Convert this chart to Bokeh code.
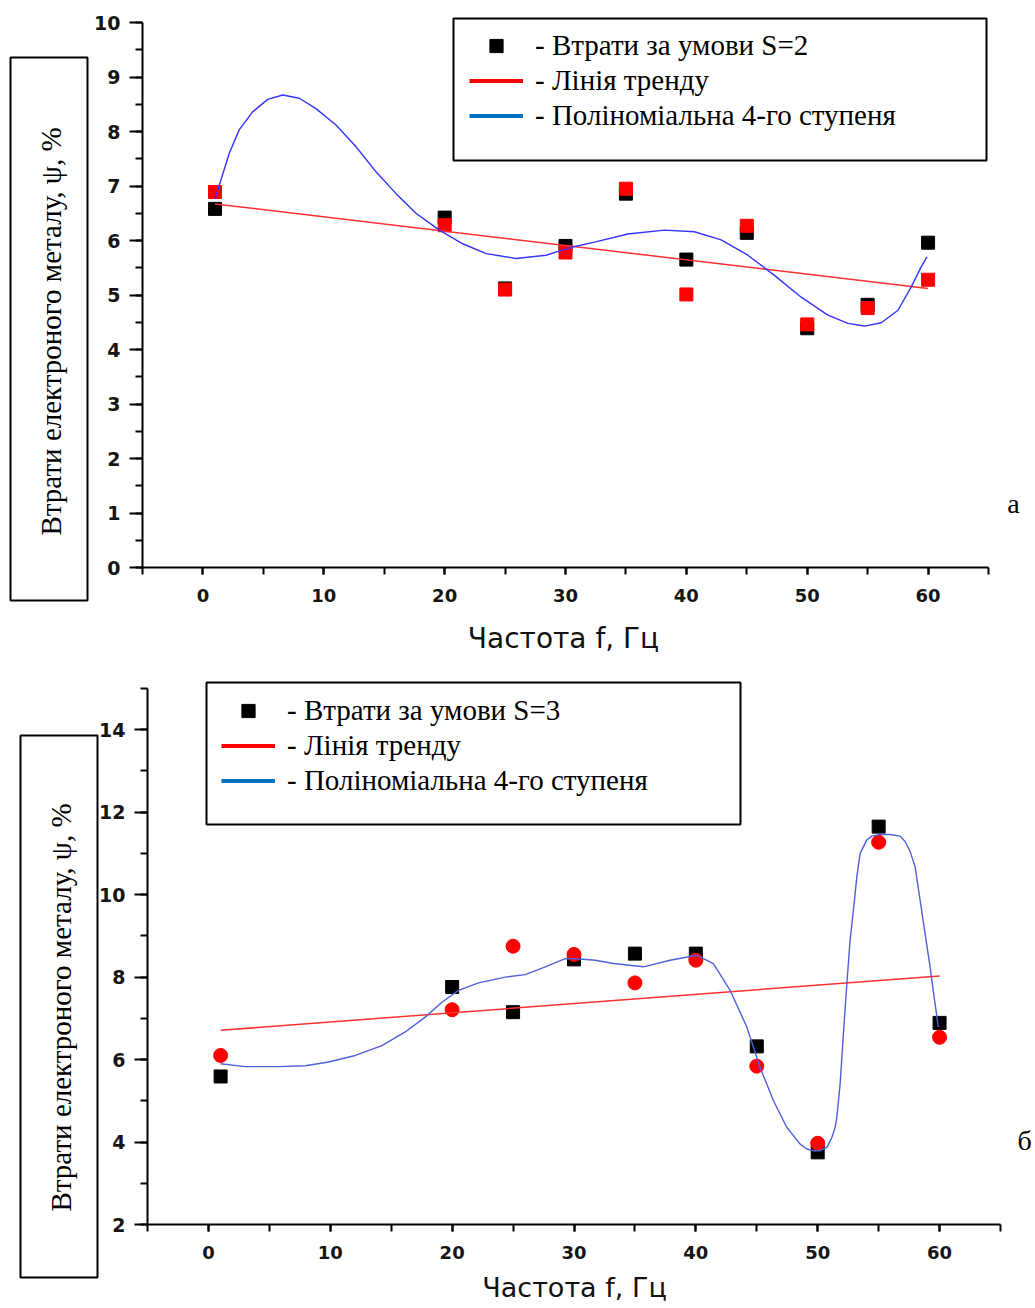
from math import pi
from bokeh.plotting import figure
from bokeh.models import (FixedTicker, Legend, LegendItem, BoxAnnotation, Range1d, Label)
from bokeh.layouts import column
from bokeh.embed import file_html
from bokeh.resources import INLINE

# ---------------- data ----------------
freq = [1, 20, 25, 30, 35, 40, 45, 50, 55, 60]

# chart a (S=2)
s2_black = [6.58, 6.42, 5.12, 5.90, 6.86, 5.65, 6.14, 4.39, 4.82, 5.96]
s2_red = [6.89, 6.28, 5.10, 5.78, 6.95, 5.01, 6.27, 4.46, 4.76, 5.28]
s2_trend_x = [1, 60]
s2_trend_y = [6.67, 5.12]
s2_poly_x = [0.99, 1.49, 2.18, 3.0, 4.11, 5.36, 6.6, 7.97, 9.35, 11.01, 12.67, 14.32,
             15.98, 17.63, 19.56, 21.5, 23.43, 25.91, 28.39, 29.64, 30.6, 32.4, 35.16,
             38.19, 40.67, 42.88, 45.09, 47.29, 49.5, 51.71, 53.37, 54.74, 56.13, 57.51,
             58.61, 59.44, 59.91]
s2_poly_y = [6.76, 7.11, 7.60, 8.03, 8.36, 8.59, 8.67, 8.61, 8.42, 8.12, 7.72, 7.26,
             6.86, 6.50, 6.19, 5.94, 5.76, 5.67, 5.73, 5.82, 5.88, 5.97, 6.12,
             6.19, 6.16, 6.01, 5.73, 5.36, 4.96, 4.63, 4.48, 4.43, 4.49, 4.72,
             5.15, 5.52, 5.70]

# chart б (S=3)
s3_black = [5.59, 7.76, 7.15, 8.43, 8.57, 8.57, 6.32, 3.75, 11.65, 6.89]
s3_red = [6.10, 7.21, 8.75, 8.55, 7.86, 8.41, 5.84, 3.97, 11.27, 6.54]
s3_trend_x = [1, 60]
s3_trend_y = [6.71, 8.03]
s3_poly_x = [0.98, 3.03, 5.76, 7.95, 9.86, 12.05, 14.24, 16.15, 17.79, 19.16, 20.52,
             22.17, 24.36, 26.0, 27.64, 29.28, 30.51, 31.74, 33.24, 35.7, 37.89, 40.08,
             41.44, 42.81, 44.18, 45.27, 46.37, 47.46, 48.56, 49.1, 49.65, 50.2, 50.75,
             51.16, 51.43, 51.57, 51.84, 52.11, 52.39, 52.66, 52.93, 53.21, 53.48, 54.03,
             54.44, 55.12, 55.94, 56.76, 57.17, 57.58, 57.99, 58.4, 58.81, 59.22, 59.55,
             59.9]
s3_poly_y = [5.90, 5.83, 5.83, 5.85, 5.94, 6.10, 6.34, 6.67, 7.03, 7.39, 7.68,
             7.86, 8.00, 8.06, 8.25, 8.45, 8.44, 8.41, 8.33, 8.25, 8.41, 8.53,
             8.33, 7.68, 6.79, 5.81, 5.00, 4.36, 3.95, 3.83, 3.79, 3.79, 3.87,
             4.11, 4.36, 4.60, 5.41, 6.63, 7.84, 8.90, 9.62, 10.43, 11.0, 11.33,
             11.42, 11.46, 11.46, 11.42, 11.29, 11.05, 10.68, 9.87, 9.06, 8.25, 7.52,
             6.79]

x_ticks = [0, 10, 20, 30, 40, 50, 60]
x_minor = [-5, 0, 5, 10, 15, 20, 25, 30, 35, 40, 45, 50, 55, 60, 65]
s2_y_ticks = [0, 1, 2, 3, 4, 5, 6, 7, 8, 9, 10]
s2_y_minor = [v / 2 for v in range(0, 21)]
s3_y_ticks = [2, 4, 6, 8, 10, 12, 14]
s3_y_minor = [2, 3, 4, 5, 6, 7, 8, 9, 10, 11, 12, 13, 14, 15]

y_title = "Втрати електроного металу, ψ, %"
x_title = "Частота f, Гц"
legend_labels_a = ["- Втрати за умови S=2", "- Лінія тренду", "- Поліноміальна 4-го ступеня"]
legend_labels_b = ["- Втрати за умови S=3", "- Лінія тренду", "- Поліноміальна 4-го ступеня"]
panel_letters = ["а", "б"]

SERIF = "Liberation Serif"
NAN = float("nan")
PAGE_W = 1035


class Frame:
    """Maps page pixels to data units for one chart (layout only)."""

    def __init__(self, top, bottom, xl_px, xr_px, xl, xr, yt_px, yb_px, yt, yb):
        self.top, self.bottom = top, bottom
        self.sx = (xr_px - xl_px) / (xr - xl)
        self.sy = (yb_px - yt_px) / (yt - yb)
        self.xl_px, self.xl, self.yb_px, self.yb = xl_px, xl, yb_px, yb

    def X(self, px):
        return self.xl + (px - self.xl_px) / self.sx

    def Y(self, py):
        return self.yb + (self.yb_px - py) / self.sy


def make_fig(fr, yt, ym, xbounds, ybounds, x_axis_at):
    p = figure(width=PAGE_W, height=fr.bottom - fr.top,
               x_range=Range1d(fr.X(0), fr.X(PAGE_W)),
               y_range=Range1d(fr.Y(fr.bottom), fr.Y(fr.top)),
               min_border=0, output_backend="svg", toolbar_location=None)
    p.xgrid.visible = False
    p.ygrid.visible = False
    p.outline_line_color = None
    xa = p.xaxis[0]
    ya = p.yaxis[0]
    xa.fixed_location = x_axis_at
    ya.fixed_location = xbounds[0]
    xa.bounds = xbounds
    ya.bounds = ybounds
    xa.ticker = FixedTicker(ticks=x_ticks, minor_ticks=x_minor)
    ya.ticker = FixedTicker(ticks=yt, minor_ticks=ym)
    for a in (xa, ya):
        a.axis_line_width = 2
        a.axis_line_color = "black"
        a.major_tick_line_width = 2
        a.minor_tick_line_width = 2
        a.major_tick_line_color = "black"
        a.minor_tick_line_color = "black"
        a.major_tick_in = 0
        a.minor_tick_in = 0
        a.major_label_text_color = "#151515"
        a.major_label_text_font = "DejaVu Sans"
        a.major_label_text_font_style = "bold"
    xa.major_tick_out = 7
    xa.minor_tick_out = 7
    ya.major_tick_out = 13
    ya.minor_tick_out = 7
    xa.major_label_text_font_size = "18px"
    xa.major_label_standoff = 14
    ya.major_label_text_font_size = "19px"
    ya.major_label_standoff = 9
    return p


def add_legend(p, fr, labels, glyph_left_px, legend_bottom_px, box_px):
    leg_sq = p.scatter([NAN], [NAN], marker="square", size=13, color="black")
    leg_red = p.line([NAN, NAN], [NAN, NAN], line_color="#ff0000", line_width=4)
    leg_blue = p.line([NAN, NAN], [NAN, NAN], line_color="#0070c0", line_width=4)
    items = [LegendItem(label=labels[0], renderers=[leg_sq]),
             LegendItem(label=labels[1], renderers=[leg_red]),
             LegendItem(label=labels[2], renderers=[leg_blue])]
    lg = Legend(items=items, location=(glyph_left_px, fr.bottom - legend_bottom_px),
                orientation="vertical", padding=0, margin=0,
                spacing=2, label_height=33, glyph_height=33, glyph_width=54,
                label_standoff=12, label_text_font=SERIF, label_text_font_size="29px",
                label_text_color="black", border_line_color=None,
                background_fill_alpha=0)
    p.add_layout(lg)
    add_box(p, fr, box_px)


def add_box(p, fr, box_px):
    l, t, r, b = box_px
    p.add_layout(BoxAnnotation(left=fr.X(l), right=fr.X(r), top=fr.Y(t), bottom=fr.Y(b),
                               fill_alpha=0, line_color="black", line_width=2,
                               line_alpha=1))


def add_texts(p, fr, ytitle_px, xtitle_px, xtitle_size, letter, letter_px):
    p.add_layout(Label(x=fr.X(ytitle_px[0]), y=fr.Y(ytitle_px[1]), text=y_title,
                       angle=pi / 2, text_align="center", text_baseline="middle",
                       text_font=SERIF, text_font_size="29px", text_color="black"))
    p.add_layout(Label(x=fr.X(xtitle_px[0]), y=fr.Y(xtitle_px[1]), text=x_title,
                       text_align="center", text_baseline="middle",
                       text_font="DejaVu Sans", text_font_size=xtitle_size,
                       text_color="#111111"))
    p.add_layout(Label(x=fr.X(letter_px[0]), y=fr.Y(letter_px[1]), text=letter,
                       text_align="center", text_baseline="middle",
                       text_font=SERIF, text_font_size="28px", text_color="black"))


# ---------------- chart a ----------------
fa = Frame(0, 663, 142, 988, -5, 65, 22, 567, 10, 0)
p1 = make_fig(fa, s2_y_ticks, s2_y_minor, (-5, 65), (0, 10), 0)
p1.scatter(freq, s2_black, marker="square", size=13, color="black")
p1.scatter(freq, s2_red, marker="square", size=13, color="#ff0000")
p1.line(s2_trend_x, s2_trend_y, line_color="#ff3030", line_width=1.5)
p1.line(s2_poly_x, s2_poly_y, line_color="#3333ff", line_width=1.4)
add_legend(p1, fa, legend_labels_a, 469, 132, (453, 18, 986, 160))
add_box(p1, fa, (10, 57, 87, 600))
add_texts(p1, fa, (50, 331), (563, 638), "28px", panel_letters[0], (1013, 503))

# ---------------- chart б ----------------
fb = Frame(663, 1308, 147, 1000, -5, 65, 688, 1224, 15, 2)
p2 = make_fig(fb, s3_y_ticks, s3_y_minor, (-5, 65), (2, 15), 2)
p2.scatter(freq, s3_black, marker="square", size=13, color="black")
p2.scatter(freq, s3_red, marker="circle", size=14, color="#ff0000")
p2.line(s3_trend_x, s3_trend_y, line_color="#ff3030", line_width=1.5)
p2.line(s3_poly_x, s3_poly_y, line_color="#5060d8", line_width=1.4)
add_legend(p2, fb, legend_labels_b, 221, 797, (206, 682, 740, 824))
add_box(p2, fb, (20, 735, 97, 1277))
add_texts(p2, fb, (60, 1007), (574, 1287), "27px", panel_letters[1], (1024, 1140))

layout = column(p1, p2)
open("out.html", "w").write(file_html(layout, INLINE))
